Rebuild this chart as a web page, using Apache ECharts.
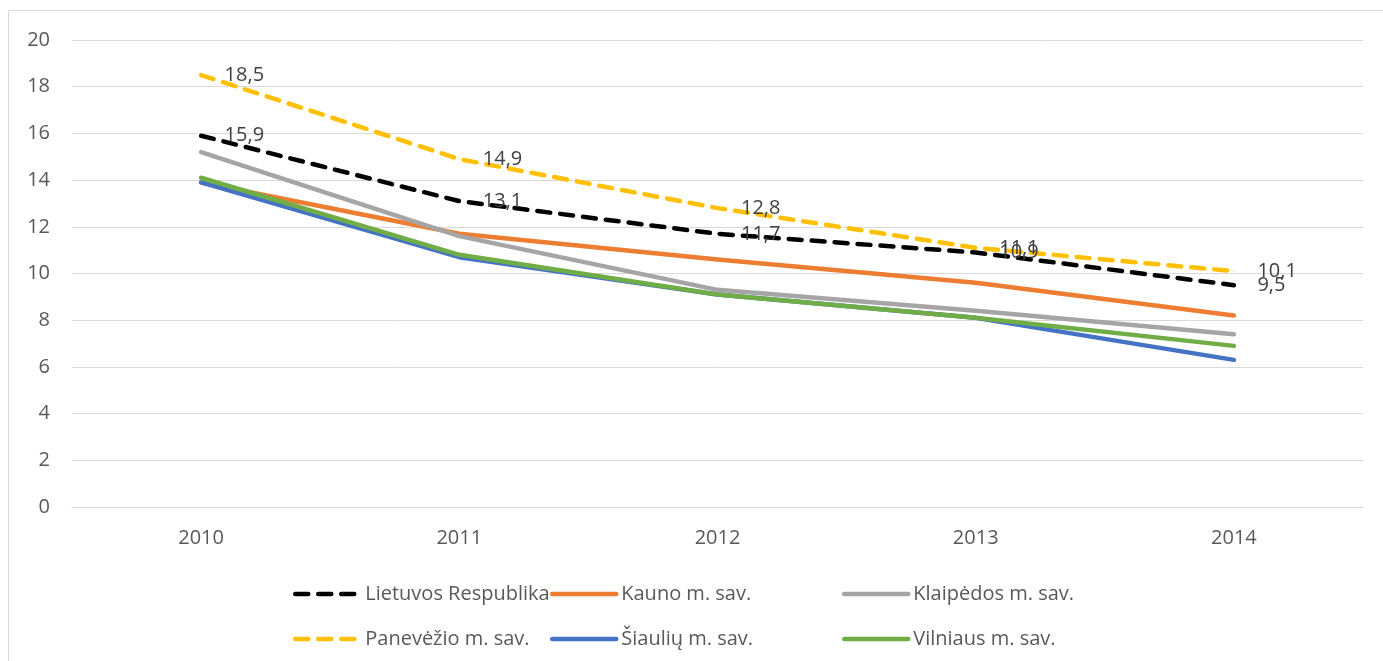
<!DOCTYPE html>
<html>
<head>
<meta charset="utf-8">
<script src="https://cdn.jsdelivr.net/npm/echarts@6/dist/echarts.min.js"></script>
<style>
  html, body { margin: 0; padding: 0; background: #fff; }
  #chart { width: 1383px; height: 661px; }
</style>
</head>
<body>
<div id="chart"></div>
<script>
const years = ['2010', '2011', '2012', '2013', '2014'];

const lietuvos = [15.9, 13.1, 11.7, 10.9, 9.5];
const kauno = [13.9, 11.7, 10.6, 9.6, 8.2];
const klaipedos = [15.2, 11.6, 9.3, 8.4, 7.4];
const panevezio = [18.5, 14.9, 12.8, 11.1, 10.1];
const siauliu = [13.9, 10.7, 9.1, 8.1, 6.3];
const vilniaus = [14.1, 10.8, 9.1, 8.1, 6.9];

const yTicks = [0, 2, 4, 6, 8, 10, 12, 14, 16, 18, 20];

const font = '"Open Sans", "Noto Sans", sans-serif';
const textGrey = '#595959';
const fs = 20;

const chart = echarts.init(document.getElementById('chart'));

const dash = [13, 10];

function lineSeries(name, data, color, dashed, withLabels) {
    return {
        name: name,
        type: 'line',
        data: data,
        symbol: 'circle',
        symbolSize: 1,
        showSymbol: true,
        animation: false,
        lineStyle: {
            color: color,
            width: 4.5,
            type: dashed ? dash : 'solid',
            cap: 'round',
            join: 'round',
        },
        itemStyle: { color: color },
        label: {
            show: withLabels,
            position: 'right',
            distance: 23,
            color: '#404040',
            fontSize: fs,
            fontFamily: font,
            formatter: (p) => String(p.value).replace('.', ','),
        },
    };
}

function legendItem(name, left, top, gap) {
    return {
        data: [name],
        left: left,
        top: top,
        itemWidth: 64,
        itemHeight: 14,
        selectedMode: false,
        itemStyle: { opacity: 0 },
        lineStyle: { width: 4.5, cap: 'round' },
        textStyle: {
            color: textGrey,
            fontSize: fs,
            fontFamily: font,
            lineHeight: 24,
            padding: [0, 0, 0, gap],
        },
    };
}

const option = {
    backgroundColor: '#fff',
    animation: false,
    graphic: [
        {
            type: 'rect',
            shape: { x: 8.5, y: 10.5, width: 1400, height: 700 },
            style: { fill: 'none', stroke: '#D9D9D9', lineWidth: 1 },
            z: -1,
        },
    ],
    grid: {
        left: 72,
        right: 20,
        top: 40,
        bottom: 154,
    },
    legend: [
        legendItem('Lietuvos Respublika', 288, 577, 1),
        legendItem('Kauno m. sav.', 545, 577, 0),
        legendItem('Klaipėdos m. sav.', 837, 577, 0),
        legendItem('Panevėžio m. sav.', 288, 622, 1),
        legendItem('Šiaulių m. sav.', 545, 622, 0),
        legendItem('Vilniaus m. sav.', 837, 622, 0),
    ],
    xAxis: {
        type: 'category',
        data: years,
        boundaryGap: true,
        axisLine: { lineStyle: { color: '#D9D9D9', width: 1 } },
        axisTick: { show: false },
        axisLabel: {
            color: textGrey,
            fontSize: fs,
            fontFamily: font,
            margin: 21,
        },
    },
    yAxis: {
        type: 'value',
        min: yTicks[0],
        max: yTicks[yTicks.length - 1],
        interval: 2,
        axisLine: { show: false },
        axisTick: { show: false },
        splitLine: { lineStyle: { color: '#D9D9D9', width: 1 } },
        axisLabel: {
            color: textGrey,
            fontSize: fs,
            fontFamily: font,
            margin: 22,
        },
    },
    series: [
        lineSeries('Lietuvos Respublika', lietuvos, '#000000', true, true),
        lineSeries('Kauno m. sav.', kauno, '#ED7D31', false, false),
        lineSeries('Klaipėdos m. sav.', klaipedos, '#A5A5A5', false, false),
        lineSeries('Panevėžio m. sav.', panevezio, '#FFC000', true, true),
        lineSeries('Šiaulių m. sav.', siauliu, '#4472C4', false, false),
        lineSeries('Vilniaus m. sav.', vilniaus, '#70AD47', false, false),
    ],
};

chart.setOption(option);
</script>
</body>
</html>
